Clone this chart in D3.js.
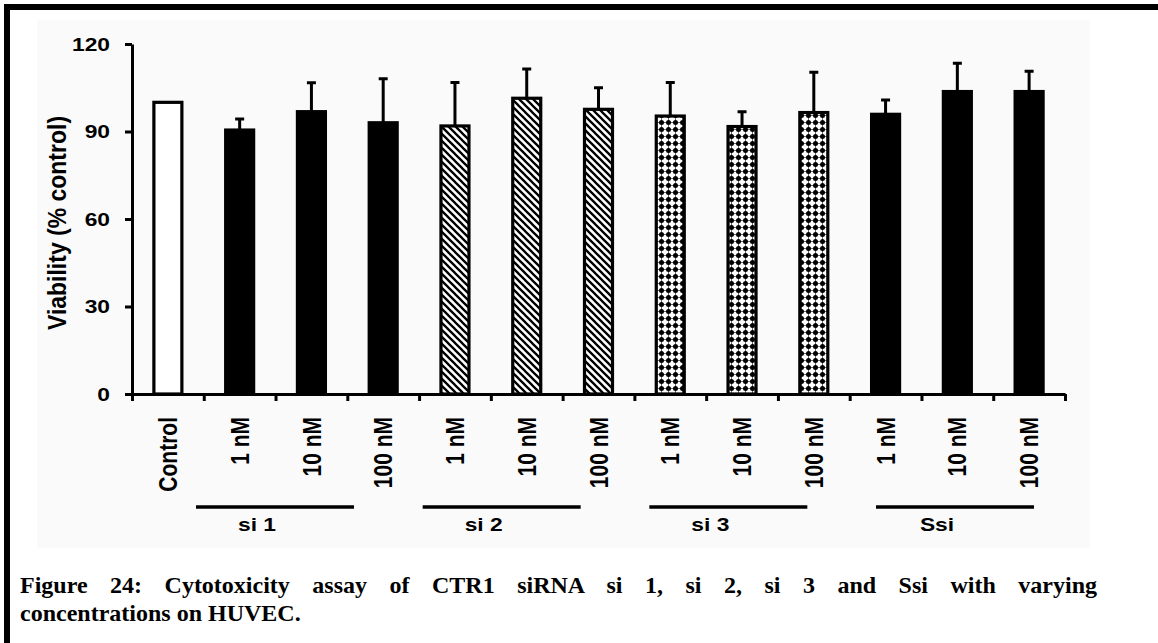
<html>
<head>
<style>
body { margin: 0; background: #fff; }
text { font-family: "Liberation Sans", Arial, sans-serif; font-weight: bold; fill: #000; }
.caption { font-family: "Liberation Serif", "Times New Roman", serif; font-weight: bold; }
.axis path, .axis line { fill: none; stroke: #000; stroke-width: 3; }
</style>
</head>
<script src="https://d3js.org/d3.v7.min.js"></script>
<body>
<div id="chart"></div>
<script>

// values
var labels = ["Control", "1 nM", "10 nM", "100 nM", "1 nM", "10 nM", "100 nM",
              "1 nM", "10 nM", "100 nM", "1 nM", "10 nM", "100 nM"];
var groupOf = ["ctrl", "si1", "si1", "si1", "si2", "si2", "si2",
               "si3", "si3", "si3", "ssi", "ssi", "ssi"];
var means  = [100, 90.5, 96.8, 93.0, 91.9, 101.4, 97.6, 95.3, 91.7, 96.5, 95.9, 103.7, 103.7];
var errors = [0, 3.8, 9.9, 15.1, 14.9, 10.0, 7.4, 11.5, 5.1, 13.8, 4.9, 9.7, 7.0];
var groupNames = ["si 1", "si 2", "si 3", "Ssi"];
var yTicks = [0, 30, 60, 90, 120];
var yTitle = "Viability (% control)";
var caption1 = "Figure 24: Cytotoxicity assay of CTR1 siRNA si 1, si 2, si 3 and Ssi with varying";
var caption2 = "concentrations on HUVEC.";

var width = 1158, height = 643;
var plotLeft = 132, plotRight = 1065, plotTop = 44, plotBottom = 394;

var svg = d3.select("#chart").append("svg")
    .attr("width", width)
    .attr("height", height);

var defs = svg.append("defs");

var hatch = defs.append("pattern")
    .attr("id", "hatch")
    .attr("patternUnits", "userSpaceOnUse")
    .attr("width", 7).attr("height", 7);
hatch.append("rect").attr("width", 7).attr("height", 7).attr("fill", "#fff");
hatch.append("path")
    .attr("d", "M-1,-1L8,8M-1,6L1,8M6,-1L8,1")
    .attr("stroke", "#000").attr("stroke-width", 2.3);

var dots = defs.append("pattern")
    .attr("id", "dots")
    .attr("patternUnits", "userSpaceOnUse")
    .attr("width", 7).attr("height", 7);
dots.append("rect").attr("width", 7).attr("height", 7).attr("fill", "#fff");
dots.append("path")
    .attr("d", "M0,3.5H7M3.5,0V7")
    .attr("stroke", "#666").attr("stroke-width", 1);
dots.append("circle").attr("cx", 3.5).attr("cy", 3.5).attr("r", 2.5).attr("fill", "#000");

var fills = {ctrl: "#fff", si1: "#000", si2: "url(#hatch)", si3: "url(#dots)", ssi: "#000"};

// page frame
svg.append("rect").attr("x", 37).attr("y", 20).attr("width", 1053).attr("height", 528).attr("fill", "#fafafa");
svg.append("rect").attr("x", 4).attr("y", 4).attr("width", width).attr("height", 6).attr("fill", "#000");
svg.append("rect").attr("x", 4).attr("y", 4).attr("width", 6).attr("height", height).attr("fill", "#000");

var x = d3.scaleBand().domain(d3.range(labels.length)).range([plotLeft, plotRight]);
var xb = d3.scaleLinear().domain([0, labels.length]).range([plotLeft, plotRight]);
var y = d3.scaleLinear().domain([0, 120]).range([plotBottom, plotTop]);

// axes
svg.append("g")
    .attr("class", "axis")
    .attr("transform", "translate(" + plotLeft + ",0)")
    .call(d3.axisLeft(y).tickValues(yTicks).tickSize(7).tickSizeOuter(0).tickFormat(""));

svg.append("g")
    .attr("class", "axis")
    .attr("transform", "translate(0," + plotBottom + ")")
    .call(d3.axisBottom(xb).tickValues(d3.range(labels.length + 1)).tickSize(7).tickSizeOuter(0).tickFormat(""));

svg.selectAll(".ylab")
    .data(yTicks)
    .enter()
    .append("text")
      .attr("class", "ylab")
      .attr("transform", function(d) { return "translate(110," + y(d) + ") scale(1.2,1)"; })
      .attr("dy", "0.36em")
      .style("text-anchor", "end")
      .style("font-size", "19px")
      .text(function(d) { return d; });

svg.append("text")
    .attr("transform", "translate(57,223) rotate(-90) scale(1,1.1)")
    .attr("dy", "0.36em")
    .style("text-anchor", "middle")
    .style("font-size", "23px")
    .text(yTitle);

// bars
var barW = x.bandwidth() * 0.39;
var cx = function(i) { return x(i) + x.bandwidth() / 2; };

var errG = svg.append("g");
means.forEach(function(m, i) {
  if (!errors[i]) return;
  var c = cx(i), yt = y(m + errors[i]);
  errG.append("path")
      .attr("fill", "none")
      .attr("stroke", "#000")
      .attr("stroke-width", 3)
      .attr("d", "M" + c + "," + y(m) + "V" + yt + "M" + (c - 4.5) + "," + yt + "H" + (c + 4.5));
});

svg.selectAll(".bar")
    .data(means)
    .enter()
    .append("rect")
      .attr("class", "bar")
      .attr("x", function(d, i) { return cx(i) - barW / 2; })
      .attr("y", function(d) { return y(d); })
      .attr("width", barW)
      .attr("height", function(d) { return plotBottom - y(d); })
      .attr("fill", function(d, i) { return fills[groupOf[i]]; })
      .attr("stroke", "#000")
      .attr("stroke-width", 3.2);

// category labels
svg.selectAll(".xlab")
    .data(labels)
    .enter()
    .append("text")
      .attr("class", "xlab")
      .attr("transform", function(d, i) { return "translate(" + cx(i) + ",417) rotate(-90) scale(1,1.2)"; })
      .attr("dy", "0.36em")
      .style("text-anchor", "end")
      .style("font-size", "21px")
      .text(function(d) { return d; });

// group lines and names (drawn as a separate, slightly offset layer in the figure)
var gx = d3.scaleLinear().domain([0, groupNames.length - 1]).range([196, 876]);
var lineLen = 158;

svg.selectAll(".gline")
    .data(groupNames)
    .enter()
    .append("line")
      .attr("class", "gline")
      .attr("x1", function(d, i) { return gx(i); })
      .attr("x2", function(d, i) { return gx(i) + lineLen; })
      .attr("y1", 507).attr("y2", 507)
      .attr("stroke", "#000").attr("stroke-width", 3.5);

svg.selectAll(".gname")
    .data(groupNames)
    .enter()
    .append("text")
      .attr("class", "gname")
      .attr("transform", function(d, i) { return "translate(" + (gx(i) + lineLen / 2 - 18) + ",524) scale(1.2,1)"; })
      .attr("dy", "0.36em")
      .style("text-anchor", "middle")
      .style("font-size", "19px")
      .text(function(d) { return d; });

// caption, first line justified
var cap1 = svg.append("text")
    .attr("class", "caption")
    .attr("x", 20).attr("y", 593)
    .style("font-size", "24px")
    .text(caption1);
var natural = cap1.node().getComputedTextLength();
var spaces = caption1.split(" ").length - 1;
cap1.attr("word-spacing", ((1097 - 20 - natural) / spaces) + "px");

svg.append("text")
    .attr("class", "caption")
    .attr("x", 20).attr("y", 621)
    .style("font-size", "24px")
    .text(caption2);

</script>
</body>
</html>
